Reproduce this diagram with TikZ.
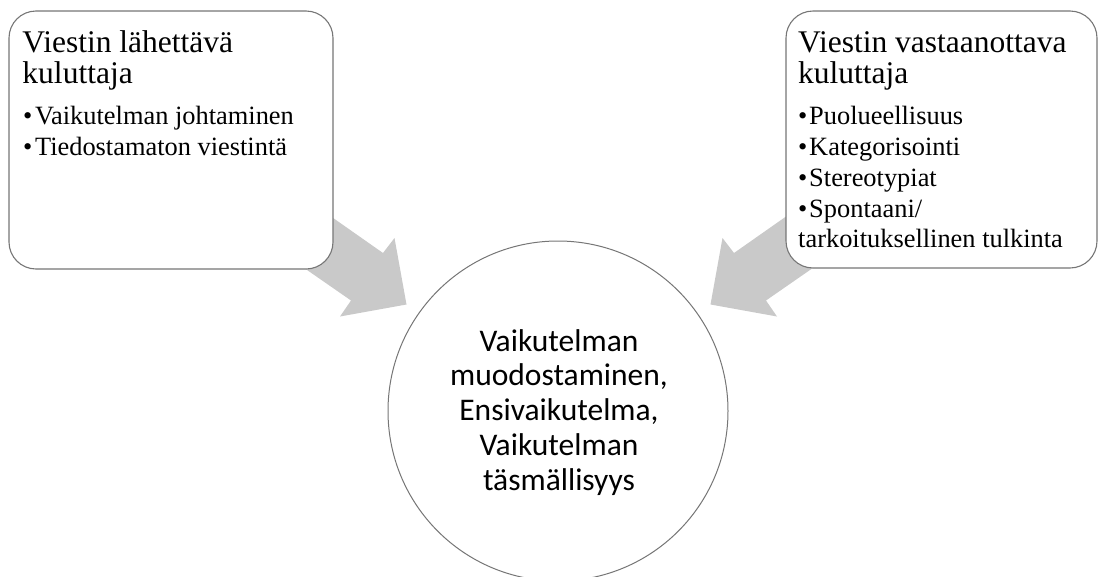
\documentclass[tikz,border=0pt]{standalone}
\usepackage{fontspec}
\setmainfont{Liberation Serif}
\newfontfamily\calibrifont{Carlito}
\definecolor{arrowgray}{RGB}{201,201,201}
\definecolor{edgegray}{RGB}{118,118,118}
\begin{document}
\begin{tikzpicture}[x=1pt,y=-1pt,
  panel/.style={draw=edgegray, line width=1.1pt, fill=white, rounded corners=27pt, inner sep=0pt},
  hub/.style={draw=edgegray, line width=1pt, fill=white, circle, inner sep=0pt, minimum size=340pt},
  title/.style={anchor=base west, inner sep=0pt, font=\fontsize{31.5}{31}\selectfont},
  item/.style={anchor=base west, inner sep=0pt, font=\fontsize{26.4}{26}\selectfont},
  core/.style={anchor=base, inner sep=0pt, font=\calibrifont\fontsize{31.5}{35}\selectfont},
  flow/.style={fill=arrowgray, draw=none}]
\useasboundingbox (0,0) rectangle (1101,576);
\clip (0,0) rectangle (1101,576);

% converging arrows (tails hidden behind the panels)
\coordinate (la1) at (261,167.4);
\coordinate (la2) at (383,253);
\coordinate (la3) at (394.5,238);
\coordinate (la4) at (406.5,304.5);
\coordinate (la5) at (340,316.5);
\coordinate (la6) at (351,300.5);
\coordinate (la7) at (227.8,215);
\fill[flow] (la1) -- (la2) -- (la3) -- (la4) -- (la5) -- (la6) -- (la7) -- cycle;

\coordinate (ra1) at (856,167.4);
\coordinate (ra2) at (734,253);
\coordinate (ra3) at (722.5,238);
\coordinate (ra4) at (710.5,304.5);
\coordinate (ra5) at (777,316.5);
\coordinate (ra6) at (766,300.5);
\coordinate (ra7) at (889.2,215);
\fill[flow] (ra1) -- (ra2) -- (ra3) -- (ra4) -- (ra5) -- (ra6) -- (ra7) -- cycle;

% panels and hub
\node[panel, minimum width=324pt, minimum height=258pt] (lbox) at (171,140) {};
\node[panel, minimum width=311pt, minimum height=257pt] (rbox) at (941.5,139.5) {};
\node[hub] (core) at (558,411) {};

% left panel text
\node[title] (lt1) at (22.3,52) {Viestin lähettävä};
\node[title] (lt2) at (22.3,83) {kuluttaja};
\node[item] (l1) at (23,124) {•\kern2.6pt Vaikutelman johtaminen};
\node[item] (l2) at (23,155) {•\kern2.6pt Tiedostamaton viestintä};

% right panel text
\node[title] (rt1) at (798,52) {Viestin vastaanottava};
\node[title] (rt2) at (798,83) {kuluttaja};
\node[item] (r1) at (798,124) {•\kern1.8pt Puolueellisuus};
\node[item] (r2) at (798,155) {•\kern1.8pt Kategorisointi};
\node[item] (r3) at (798,186) {•\kern1.8pt Stereotypiat};
\node[item] (r4) at (798,217) {•\kern1.8pt Spontaani/};
\node[item] (r5) at (798,247) {tarkoituksellinen tulkinta};

% hub text
\node[core] (c1) at (559,351) {Vaikutelman};
\node[core] (c2) at (559,385.8) {muodostaminen,};
\node[core] (c3) at (559,420.6) {Ensivaikutelma,};
\node[core] (c4) at (559,455.4) {Vaikutelman};
\node[core] (c5) at (559,490.2) {täsmällisyys};
\end{tikzpicture}
\end{document}
